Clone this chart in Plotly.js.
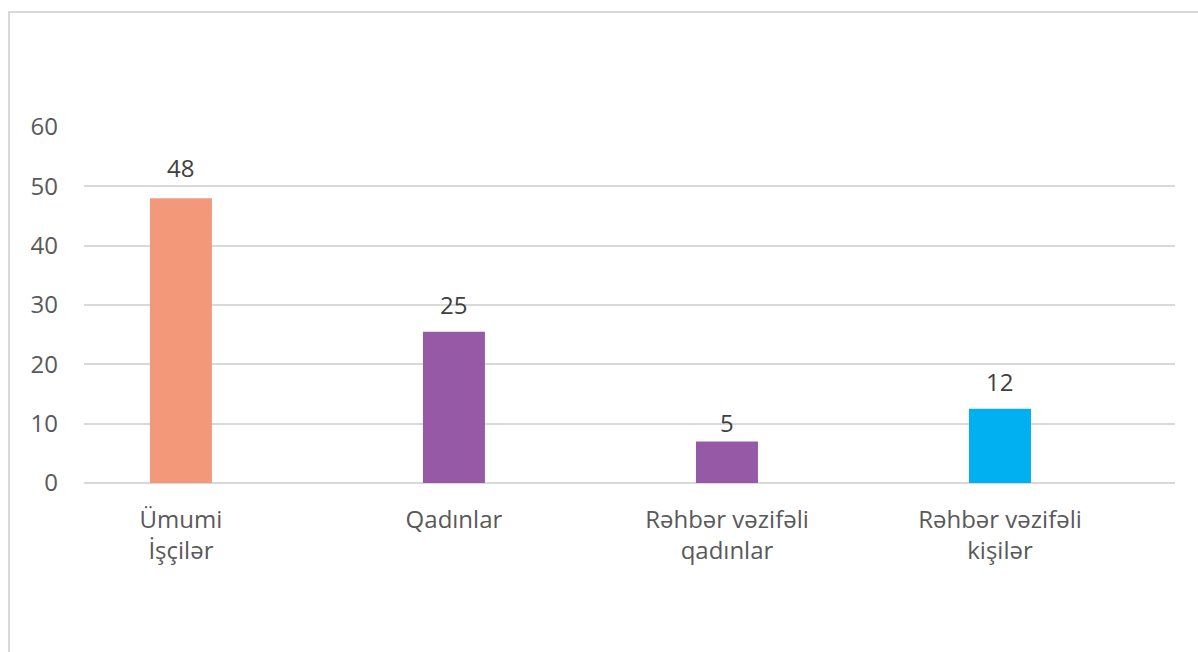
<!DOCTYPE html>
<html>
<head>
<meta charset="utf-8">
<script src="https://cdn.plot.ly/plotly-3.0.1.min.js"></script>
<style>
html,body{margin:0;padding:0;background:#fff;overflow:hidden;}
#frame{position:absolute;left:8px;top:11px;width:1300px;height:800px;border:2px solid #D9D9D9;box-sizing:border-box;}
#chart{position:absolute;left:0;top:0;width:1198px;height:652px;}
</style>
</head>
<body>
<div id="frame"></div>
<div id="chart"></div>
<script>
var categories = ["Ümumi<br>İşçilər", "Qadınlar", "Rəhbər vəzifəli<br>qadınlar", "Rəhbər vəzifəli<br>kişilər"];
var barValues = [48, 25.5, 7, 12.5];
var labelValues = [48, 25, 5, 12];
var barColors = ["#F4987A", "#9659A6", "#9659A6", "#00B0F0"];
var yTicks = [0, 10, 20, 30, 40, 50, 60];

var FONT = "Open Sans, Noto Sans, sans-serif";

var trace = {
  type: "bar",
  x: [0, 1, 2, 3],
  y: barValues,
  marker: {color: barColors},
  width: 0.227,
  hoverinfo: "none"
};

var annotations = categories.map(function(c, i){
  return {
    x: i, y: labelValues[i], xref: "x", yref: "y",
    text: String(labelValues[i]), showarrow: false,
    yanchor: "bottom", yshift: 12,
    font: {family: FONT, size: 24, color: "#404040"}
  };
});

var layout = {
  width: 1198, height: 652,
  margin: {l: 84, r: 23, t: 127, b: 169},
  paper_bgcolor: "rgba(0,0,0,0)",
  plot_bgcolor: "rgba(0,0,0,0)",
  showlegend: false,
  xaxis: {
    type: "linear",
    range: [-0.355, 3.641],
    tickvals: [0, 1, 2, 3],
    ticktext: categories,
    showgrid: false, zeroline: false, showline: false,
    ticks: "", ticklabelstandoff: 20,
    tickfont: {family: FONT, size: 24, color: "#595959"}
  },
  yaxis: {
    range: [0, 60],
    tickvals: yTicks,
    showgrid: true, gridcolor: "#D9D9D9", gridwidth: 2,
    zeroline: true, zerolinecolor: "#D9D9D9", zerolinewidth: 2,
    showline: false, ticks: "",
    ticklabelstandoff: 25,
    tickfont: {family: FONT, size: 24, color: "#595959"}
  },
  annotations: annotations
};

Plotly.newPlot("chart", [trace], layout, {displayModeBar: false, staticPlot: true});
</script>
</body>
</html>
